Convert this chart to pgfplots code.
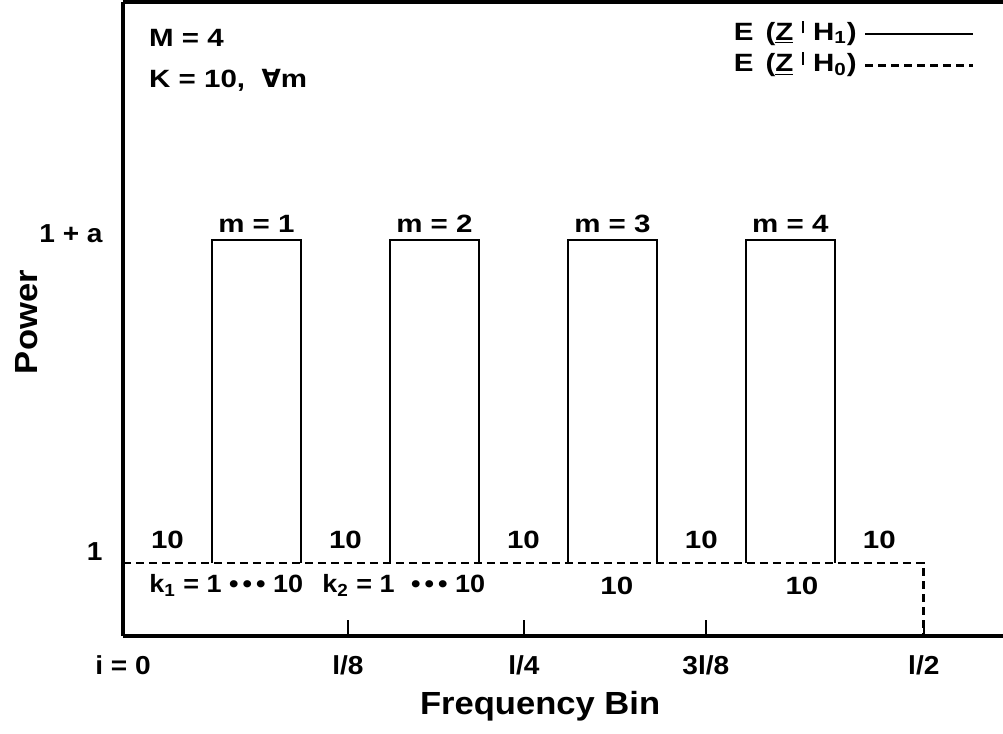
\documentclass[border=0pt]{standalone}
\usepackage{fontspec}
\setmainfont{Liberation Sans}[FakeStretch=1.08]
\newfontfamily\afont{Liberation Sans}[FakeStretch=1.18]
\newfontfamily\symfont{DejaVu Sans}
\usepackage{pgfplots}
\pgfplotsset{compat=1.18}

\newcommand\annot{\afont\fontsize{12.5}{14}\selectfont}
\newcommand\kfont{\fontsize{12.5}{14}\selectfont}
\newcommand\tickf{\fontsize{13}{15}\selectfont}
\newcommand\labf{\fontsize{16}{19}\selectfont}
\newcommand\legf{\afont\fontsize{12.5}{13}\selectfont}
\newcommand\given{\hspace{4.5pt}\rule[3.4pt]{0.8pt}{6.2pt}\hspace{4.5pt}}
\newcommand\bdots{•\hspace{2pt}•\hspace{2pt}•}

\begin{document}
\begin{tikzpicture}[font=\bfseries]
\path[use as bounding box] (-61.5pt,-49pt) rectangle (440pt,318pt);
\begin{axis}[
  scale only axis, width=440pt, height=317pt,
  xmin=0, xmax=98.9, ymin=0, ymax=8.685,
  axis lines*=left,
  axis line style={line width=1.7pt, black},
  clip=false,
  tick align=inside,
  major tick length=8pt,
  xtick={0,25.28,45.06,65.5,90},
  xticklabels={i = 0, l/8, l/4, 3l/8, l/2},
  x tick style={line width=1.2pt, black},
  ytick={1,5.425},
  yticklabels={\raisebox{1.5pt}{1}, \raisebox{-1.5pt}{1 + a}},
  y tick style={draw=none},
  xticklabel style={anchor=base, inner sep=0pt, yshift=-19.5pt, font=\bfseries\tickf},
  yticklabel style={anchor=base east, inner sep=0pt, xshift=-10pt, font=\bfseries\tickf},
  xlabel={Frequency Bin},
  ylabel={Power},
  xlabel style={at={(axis description cs:0.474,-0.1246)}, anchor=base, font=\bfseries\labf},
  ylabel style={at={(axis description cs:-0.0977,0.495)}, anchor=base, font=\bfseries\labf},
  legend plot pos=right,
  legend image code/.code={\draw[#1] (0pt,0pt) -- (54pt,0pt);},
  legend style={at={(rel axis cs:0.968,0.969)}, anchor=north east, draw=none, fill=none,
    inner sep=0pt, row sep=3.8pt, column sep=3.5pt, font=\bfseries\legf,
    nodes={inner sep=0pt, text height=9pt, text depth=3pt},
    cells={anchor=west}},
]
% signal present: one raised band of K bins per message slot
\addplot[black, line width=1.3pt, unbounded coords=jump] coordinates {
  (10,1) (10,5.425) (20,5.425) (20,1) (20,nan)
  (30,1) (30,5.425) (40,5.425) (40,1) (40,nan)
  (50,1) (50,5.425) (60,5.425) (60,1) (60,nan)
  (70,1) (70,5.425) (80,5.425) (80,1)
};
\addlegendentry{E\hspace{6pt}(\underline{Z}\given H\textsubscript{1})}
% noise only: flat unit power up to l/2
\addplot[black, line width=1.4pt, dash pattern=on 4pt off 2.5pt] coordinates {
  (0,1) (90,1) (90,0)
};
\addlegendentry{E\hspace{6pt}(\underline{Z}\given H\textsubscript{0})}

\draw[line width=1.7pt] (rel axis cs:0,1) -- (rel axis cs:1,1);

\begin{scope}[every node/.style={font=\bfseries\annot, inner sep=0pt}]
\node[anchor=base west] at (axis cs:2.9,8.08) {M = 4};
\node[anchor=base west] at (axis cs:2.9,7.51) {K = 10,\ \ {\symfont\bfseries ∀}m};
\node[anchor=base] at (axis cs:15,5.534) {m = 1};
\node[anchor=base] at (axis cs:35,5.534) {m = 2};
\node[anchor=base] at (axis cs:55,5.534) {m = 3};
\node[anchor=base] at (axis cs:75,5.534) {m = 4};
\node[anchor=base] at (axis cs:5,1.205) {10};
\node[anchor=base] at (axis cs:25,1.205) {10};
\node[anchor=base] at (axis cs:45,1.205) {10};
\node[anchor=base] at (axis cs:65,1.205) {10};
\node[anchor=base] at (axis cs:85,1.205) {10};
\node[anchor=base west, font=\bfseries\kfont] at (axis cs:2.92,0.59) {k\textsubscript{1} = 1 \bdots\ 10};
\node[anchor=base west, font=\bfseries\kfont] at (axis cs:22.36,0.59) {k\textsubscript{2} = 1\hspace{4.5pt} \bdots\ 10};
\node[anchor=base] at (axis cs:55.5,0.575) {10};
\node[anchor=base] at (axis cs:76.3,0.575) {10};
\end{scope}
\end{axis}
\end{tikzpicture}
\end{document}
